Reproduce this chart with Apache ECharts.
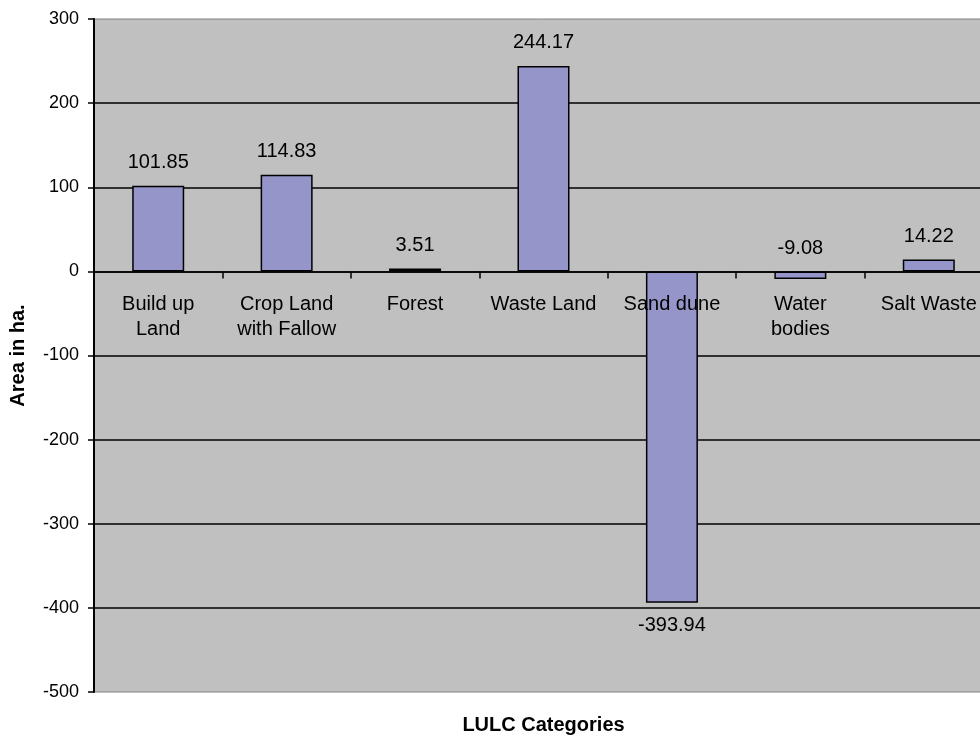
<!DOCTYPE html>
<html>
<head>
<meta charset="utf-8">
<script src="https://cdn.jsdelivr.net/npm/echarts@6/dist/echarts.min.js"></script>
<style>
    html, body { margin: 0; padding: 0; background: #fff; }
    #chart { width: 980px; height: 735px; }
</style>
</head>
<body>
<div id="chart"></div>
<script>
// LULC change (area in ha.)
var categories = ['Build up\nLand', 'Crop Land\nwith Fallow', 'Forest', 'Waste Land', 'Sand dune', 'Water\nbodies', 'Salt Waste']
var areaValues = [101.85, 114.83, 3.51, 244.17, -393.94, -9.08, 14.22]
var yTicks = { min: -500, max: 300, interval: 100 }

var barData = areaValues.map(function (v) {
    return {
        value: v,
        label: { position: v < -100 ? 'bottom' : 'top' }
    }
})

var gridTop = 19
var gridBottom = 43
var gridHeight = 735 - gridTop - gridBottom
// move the category axis up to the zero line of the value axis
var zeroOffset = -gridHeight * (0 - yTicks.min) / (yTicks.max - yTicks.min)

var myChart = echarts.init(document.getElementById('chart'))
var option = {
    animation: false,
    grid: {
        left: 94,
        width: 899,
        top: gridTop,
        bottom: gridBottom,
        containLabel: false,
        outerBoundsMode: 'none',
        show: true,
        backgroundColor: '#C0C0C0',
        borderColor: '#808080',
        borderWidth: 1
    },
    xAxis: {
        type: 'category',
        data: categories,
        position: 'bottom',
        offset: zeroOffset,
        z: 3,
        name: 'LULC Categories',
        nameLocation: 'middle',
        nameGap: 444,
        nameTextStyle: {
            fontFamily: 'Liberation Sans',
            fontWeight: 'bold',
            fontSize: 20,
            color: '#000'
        },
        axisLine: { onZero: false, lineStyle: { color: '#000', width: 1.5 } },
        axisTick: { show: true, length: 7, lineStyle: { color: '#000', width: 1.5 } },
        axisLabel: {
            interval: 0,
            margin: 21,
            fontFamily: 'Liberation Sans',
            fontSize: 20,
            lineHeight: 25,
            color: '#000'
        },
        splitLine: { show: false }
    },
    yAxis: {
        type: 'value',
        min: yTicks.min,
        max: yTicks.max,
        interval: yTicks.interval,
        name: 'Area in ha.',
        nameLocation: 'middle',
        nameRotate: 90,
        nameGap: 66,
        nameTextStyle: {
            fontFamily: 'Liberation Sans',
            fontWeight: 'bold',
            fontSize: 20,
            color: '#000'
        },
        axisLine: { show: true, lineStyle: { color: '#000', width: 2 } },
        axisTick: { show: true, length: 6, lineStyle: { color: '#000', width: 1.5 } },
        axisLabel: {
            margin: 15,
            fontFamily: 'Liberation Sans',
            fontSize: 18,
            color: '#000'
        },
        splitLine: {
            show: true,
            showMinLine: false,
            showMaxLine: false,
            lineStyle: { color: '#000', width: 1.5 }
        }
    },
    series: [
        {
            type: 'bar',
            data: barData,
            barWidth: 52,
            itemStyle: {
                color: '#9595C9',
                borderColor: '#000',
                borderWidth: 1.5
            },
            label: {
                show: true,
                distance: 13,
                fontFamily: 'Liberation Sans',
                fontSize: 20,
                color: '#000',
                formatter: function (p) {
                    return p.value.toFixed(2)
                }
            }
        }
    ]
}
myChart.setOption(option)
</script>
</body>
</html>
